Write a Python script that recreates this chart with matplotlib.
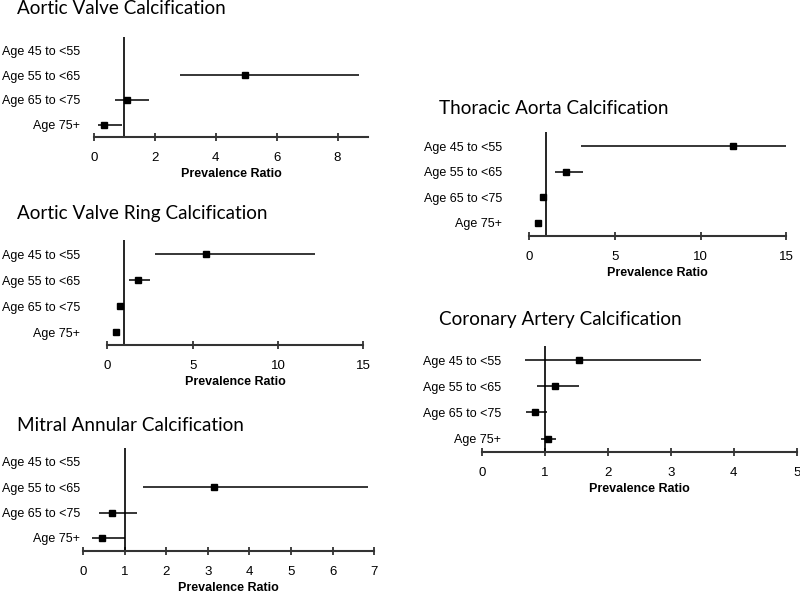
import numpy as np
import matplotlib
matplotlib.use("Agg")
import matplotlib.pyplot as plt

plt.rcParams['font.family'] = ['Liberation Sans', 'DejaVu Sans']

age_groups = ["Age 45 to <55", "Age 55 to <65", "Age 65 to <75", "Age 75+"]

# prevalence ratio, lower CI, upper CI (nan = not estimated)
av_pr = [np.nan, 4.96, 1.09, 0.32]
av_lo = [np.nan, 2.84, 0.68, 0.12]
av_hi = [np.nan, 8.70, 1.80, 0.92]

avr_pr = [5.80, 1.78, 0.76, 0.49]
avr_lo = [2.79, 1.29, 0.60, 0.36]
avr_hi = [12.15, 2.50, 0.90, 0.70]

mac_pr = [np.nan, 3.14, 0.69, 0.45]
mac_lo = [np.nan, 1.44, 0.38, 0.21]
mac_hi = [np.nan, 6.86, 1.29, 1.00]

ta_pr = [11.88, 2.18, 0.82, 0.54]
ta_lo = [3.03, 1.53, 0.64, 0.39]
ta_hi = [15.0, 3.15, 1.07, 0.74]

cac_pr = [1.54, 1.15, 0.84, 1.04]
cac_lo = [0.68, 0.87, 0.69, 0.93]
cac_hi = [3.48, 1.53, 1.03, 1.18]

W, H = 800, 594
fig = plt.figure(figsize=(W / 100, H / 100), dpi=100)

# title, data, x ticks, axes box in pixels (x0, x1, ytop, ybottom), label right edge, title pos
panels = [
    ("Aortic Valve Calcification", av_pr, av_lo, av_hi, np.arange(0, 9, 2), 9,
     (94, 368, 37, 137), 80, (17, 14)),
    ("Aortic Valve Ring Calcification", avr_pr, avr_lo, avr_hi, np.arange(0, 16, 5), 15,
     (107.3, 363.3, 240, 345), 80, (17, 219)),
    ("Mitral Annular Calcification", mac_pr, mac_lo, mac_hi, np.arange(0, 8, 1), 7,
     (83, 374.3, 447.7, 550.7), 80, (17, 431)),
    ("Thoracic Aorta Calcification", ta_pr, ta_lo, ta_hi, np.arange(0, 16, 5), 15,
     (529, 786.3, 132.3, 235.7), 502, (439, 114.3)),
    ("Coronary Artery Calcification", cac_pr, cac_lo, cac_hi, np.arange(0, 6, 1), 5,
     (482.3, 796.7, 345.7, 451.7), 501, (439, 325.3)),
]

ypos = np.array([4, 3, 2, 1])

for title, pr, lo, hi, xt, xmax, box, lab_right, tpos in panels:
    x0, x1, yt, yb = box
    ax = fig.add_axes([x0 / W, 1 - yb / H, (x1 - x0) / W, (yb - yt) / H])
    pr = np.array(pr); lo = np.array(lo); hi = np.array(hi)
    ax.hlines(ypos, lo, hi, color='black', lw=1.1)
    ax.plot(pr, ypos, 's', color='black', ms=4.2)
    ax.axvline(1, color='black', lw=1.2)
    ax.set_xlim(0, xmax)
    ax.set_ylim(0.5, 4.55)
    ax.set_xticks(xt)
    ax.set_yticks(ypos)
    ax.set_yticklabels(age_groups)
    for s in ['top', 'right', 'left']:
        ax.spines[s].set_visible(False)
    ax.spines['bottom'].set_color('#333333')
    ax.spines['bottom'].set_linewidth(1.5)
    ax.spines['bottom'].set_bounds(0, xmax)
    ax.tick_params(axis='x', direction='inout', length=6, width=1.3, color='#333333',
                   labelsize=9.5, pad=8)
    ax.tick_params(axis='y', length=0, labelsize=9, pad=(x0 - lab_right) * 0.72)
    ax.set_xlabel("Prevalence Ratio", fontsize=9, fontweight='bold', labelpad=3)
    ax.patch.set_visible(False)
    fig.text(tpos[0] / W, 1 - tpos[1] / H, title, family=['Lato', 'DejaVu Sans'],
             fontsize=13.6, ha='left', va='baseline')

fig.savefig("out.png", dpi=100)
